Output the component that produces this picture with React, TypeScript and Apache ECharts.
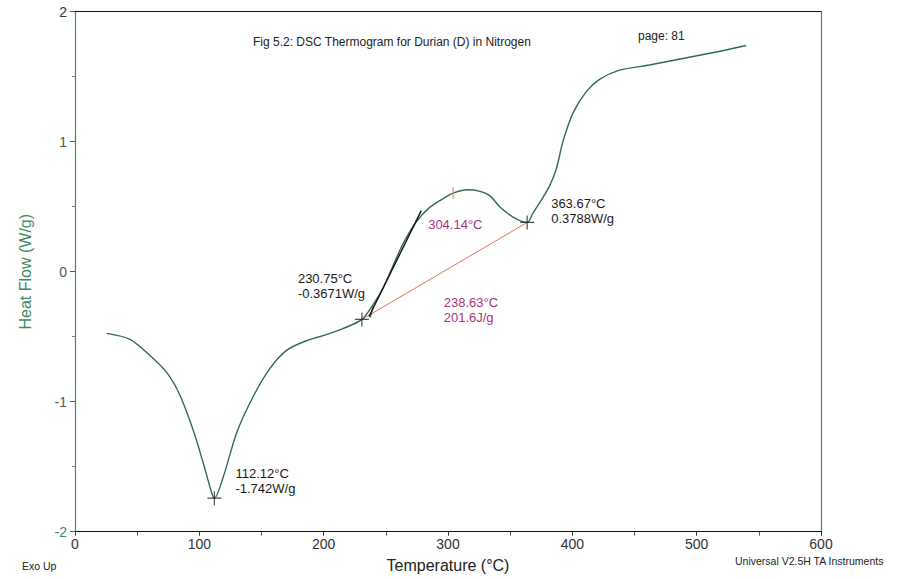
import React, { useEffect, useRef } from "react";
import * as echarts from "echarts";

// Traced DSC curve (temperature °C, heat flow W/g)
const tempC = [
  25.5, 44.2, 60.3, 73.7, 84.4, 95.1, 103.1, 109.9, 112.12, 119.2, 130, 143.3,
  156.7, 170.1, 185, 200, 215, 230.75, 239.7, 247.8, 255.8, 263.8, 274.6,
  285.3, 298.7, 304.14, 315.8, 325, 333.5, 341.6, 352.3, 363.67, 368.3, 375,
  381.7, 387.1, 392.4, 400.5, 411.2, 421.9, 438, 462, 488.9, 515.7, 539.8,
];
const heatFlow = [
  -0.474, -0.52, -0.645, -0.775, -0.95, -1.22, -1.47, -1.7, -1.742, -1.58,
  -1.24, -0.96, -0.745, -0.605, -0.535, -0.49, -0.44, -0.3671, -0.255, -0.125,
  0.045, 0.215, 0.385, 0.495, 0.577, 0.605, 0.63, 0.62, 0.585, 0.5, 0.42,
  0.3788, 0.45, 0.55, 0.66, 0.79, 1.0, 1.22, 1.385, 1.48, 1.55, 1.59, 1.64,
  1.69, 1.74,
];

const xTickValues = [0, 100, 200, 300, 400, 500, 600];
const yTickValues = [-2, -1, 0, 1, 2];

const peakMin = [112.12, -1.742];
const onsetStart = [230.75, -0.3671];
const onsetEnd = [363.67, 0.3788];
const tangent = [
  [236.5, -0.345],
  [278.5, 0.47],
];
const onsetTick = [238.63, -0.31];
const peakTick = [304.14, 0.605];

const minLabel = "112.12°C\n-1.742W/g";
const startLabel = "230.75°C\n-0.3671W/g";
const endLabel = "363.67°C\n0.3788W/g";
const peakLabel = "304.14°C";
const areaLabel = "238.63°C\n201.6J/g";

export default function App() {
  const ref = useRef<HTMLDivElement>(null);
  useEffect(() => {
    document.body.style.margin = "0";
    const chart = echarts.init(ref.current!, null, { renderer: "svg" });
    const green = "#2f6b50";
    const axisGreen = "#3f8a66";
    const font = "Liberation Sans, Arial, sans-serif";
    const plus = "path://M10,0L10,20M0,10L20,10";

    chart.setOption({
      animation: false,
      backgroundColor: "#ffffff",
      grid: { left: 75, right: 83, top: 11.7, bottom: 47.3, containLabel: false },
      xAxis: [
        {
          type: "value",
          min: 0,
          max: 600,
          interval: 100,
          name: "Temperature (°C)",
          nameLocation: "middle",
          nameGap: 26,
          nameTextStyle: { color: "#222", fontSize: 16, fontFamily: font },
          axisLine: { onZero: false, lineStyle: { color: "#111", width: 1.2 } },
          axisTick: { show: true, length: 4, inside: false, lineStyle: { color: "#333" } },
          minorTick: { show: true, splitNumber: 2, length: 4, lineStyle: { color: "#555" } },
          axisLabel: {
            color: "#333",
            fontSize: 14,
            fontFamily: font,
            margin: 5,
            customValues: xTickValues,
          },
          splitLine: { show: false },
        },
        {
          type: "value",
          position: "top",
          min: 0,
          max: 600,
          axisLine: { onZero: false, lineStyle: { color: "#111", width: 1.2 } },
          axisTick: { show: false },
          axisLabel: { show: false },
          splitLine: { show: false },
        },
      ],
      yAxis: [
        {
          type: "value",
          min: -2,
          max: 2,
          interval: 1,
          name: "Heat Flow (W/g)",
          nameLocation: "middle",
          nameGap: 42,
          nameTextStyle: { color: axisGreen, fontSize: 16, fontFamily: font },
          axisLine: { onZero: false, lineStyle: { color: axisGreen, width: 1.2 } },
          axisTick: { show: true, length: 5, lineStyle: { color: "#555" } },
          minorTick: { show: true, splitNumber: 2, length: 3, lineStyle: { color: "#777" } },
          axisLabel: {
            fontSize: 14,
            fontFamily: font,
            margin: 8,
            customValues: yTickValues,
            color: (v: any) => (Number(v) === -2 ? axisGreen : Number(v) === 2 ? "#333" : "#555"),
          },
          splitLine: { show: false },
        },
        {
          type: "value",
          position: "right",
          min: -2,
          max: 2,
          axisLine: { onZero: false, lineStyle: { color: axisGreen, width: 1.2 } },
          axisTick: { show: false },
          axisLabel: { show: false },
          splitLine: { show: false },
        },
      ],
      series: [
        {
          type: "line",
          data: tempC.map((t, i) => [t, heatFlow[i]]),
          smooth: 0.3,
          showSymbol: false,
          lineStyle: { color: green, width: 1.4 },
          z: 3,
        },
        {
          type: "line",
          data: [onsetStart, onsetEnd],
          showSymbol: false,
          lineStyle: { color: "#e2735f", width: 1 },
          z: 2,
        },
        {
          type: "line",
          data: tangent,
          showSymbol: false,
          lineStyle: { color: "#111", width: 1.4 },
          z: 4,
        },
        {
          type: "scatter",
          data: [peakMin, onsetStart, onsetEnd],
          symbol: plus,
          symbolSize: 14,
          itemStyle: { color: "none", borderColor: "#222", borderWidth: 1.2 },
          z: 5,
        },
        {
          type: "scatter",
          data: [onsetTick],
          symbol: "rect",
          symbolSize: [1.3, 11],
          symbolRotate: -15,
          itemStyle: { color: "#222" },
          z: 5,
        },
        {
          type: "scatter",
          data: [peakTick],
          symbol: "rect",
          symbolSize: [1.5, 12],
          itemStyle: { color: "#e39a62" },
          z: 6,
        },
      ],
    });

    const px = (p: number[]) => chart.convertToPixel({ seriesIndex: 0 }, p) as number[];
    const txt = (
      anchor: number[],
      dx: number,
      dy: number,
      text: string,
      fill: string,
      size = 13
    ) => {
      const p = px(anchor);
      return {
        type: "text",
        x: p[0] + dx,
        y: p[1] + dy,
        z: 10,
        style: {
          text,
          fill,
          fontSize: size,
          fontFamily: font,
          lineHeight: 15,
          verticalAlign: "top",
          align: "left",
        },
      };
    };
    const purple = "#a8337f";
    chart.setOption({
      graphic: [
        txt(peakMin, 21, -32, minLabel, "#1a1a1a"),
        txt(onsetStart, -64, -48, startLabel, "#1a1a1a"),
        txt(onsetEnd, 24, -26, endLabel, "#1a1a1a"),
        txt(peakTick, -25, 24, peakLabel, purple),
        txt(onsetTick, 72, -17, areaLabel, purple),
        {
          type: "text",
          x: 253,
          y: 36,
          style: { text: "Fig 5.2: DSC Thermogram for Durian (D) in Nitrogen", fill: "#222", fontSize: 12, fontFamily: font },
        },
        {
          type: "text",
          x: 638,
          y: 30,
          style: { text: "page: 81", fill: "#222", fontSize: 12, fontFamily: font },
        },
        {
          type: "text",
          x: 22,
          y: 560,
          style: { text: "Exo Up", fill: "#222", fontSize: 10.5, fontFamily: font },
        },
        {
          type: "text",
          x: 735,
          y: 555,
          style: { text: "Universal V2.5H TA Instruments", fill: "#222", fontSize: 10.5, fontFamily: font },
        },
      ],
    });

    return () => chart.dispose();
  }, []);
  return (
    <div
      ref={ref}
      style={{ position: "absolute", left: 0, top: 0, width: 904, height: 579 }}
    />
  );
}
